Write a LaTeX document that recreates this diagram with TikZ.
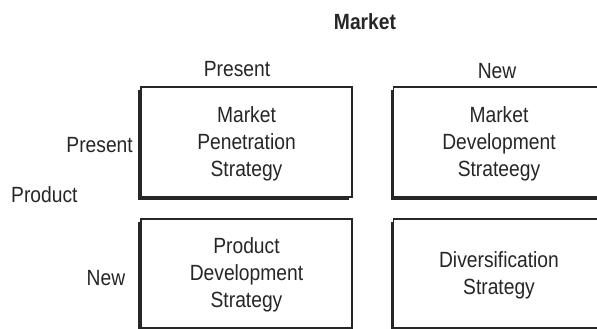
\documentclass[tikz,border=0pt]{standalone}
\usepackage{fontspec}
\setmainfont{Liberation Sans}[FakeStretch=0.875]
\usetikzlibrary{shadows}
\begin{document}
\begin{tikzpicture}[x=1pt,y=-1pt,
  txt/.style={font=\fontsize{22}{27}\selectfont, inner sep=0pt, text=black!85},
  cell/.style={draw=black!85, line width=1.1pt, fill=white,
    minimum width=211pt, minimum height=110pt,
    drop shadow={shadow xshift=-2.6pt, shadow yshift=-2.6pt, fill=black!85, opacity=1}},
  celltext/.style={txt, align=center, yshift=-1.8pt},
  lbl/.style={txt, anchor=base}]
\useasboundingbox (0,0) rectangle (597,329);
\clip (0,0) rectangle (597,329);
\fill[white] (0,0) rectangle (597,329);
\node[cell] (pp) at (246.5,142) {};
\node[cell] (np) at (499,142) {};
\node[cell, minimum height=109pt] (pn) at (246.5,273.5) {};
\node[cell, minimum height=109pt] (nn) at (499,273.5) {};
\node[celltext] (ppt) at (pp.center) {Market\\Penetration\\Strategy};
\node[celltext] (npt) at (np.center) {Market\\Development\\Strateegy};
\node[celltext] (pnt) at (pn.center) {Product\\Development\\Strategy};
\node[celltext] (nnt) at (nn.center) {Diversification\\Strategy};
\node[lbl, font=\fontsize{22}{27}\selectfont\bfseries] (market) at (365,30) {Market};
\node[lbl] (cpresent) at (237,77) {Present};
\node[lbl] (cnew) at (497,78) {New};
\node[lbl, anchor=base east] (rpresent) at (133,152) {Present};
\node[lbl, anchor=base west] (product) at (11,202) {Product};
\node[lbl] (rnew) at (106,285) {New};
\end{tikzpicture}
\end{document}
